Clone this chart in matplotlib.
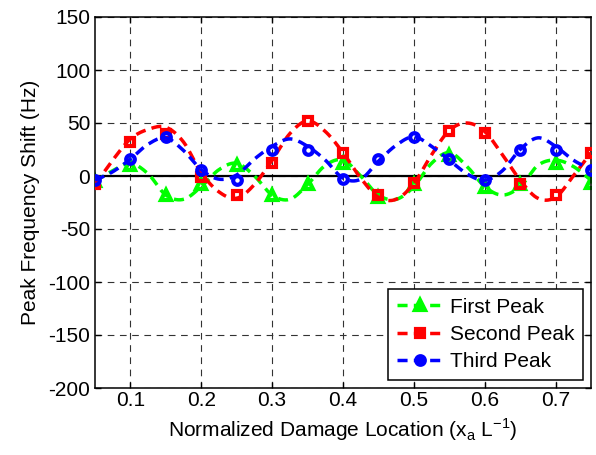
import numpy as np
import matplotlib
matplotlib.use("Agg")
import matplotlib.pyplot as plt
from matplotlib.lines import Line2D

plt.rcParams['font.family'] = ['Liberation Sans', 'DejaVu Sans']
plt.rcParams['mathtext.fontset'] = 'custom'
plt.rcParams['mathtext.rm'] = 'Liberation Sans'
plt.rcParams['axes.unicode_minus'] = False

# Measured peak shifts at each damage location
locations = [0.05, 0.10, 0.15, 0.20, 0.25, 0.30, 0.35, 0.40,
             0.45, 0.50, 0.55, 0.60, 0.65, 0.70, 0.75]
first_peak = [-5, 10, -18, -8, 10, -18, -8, 12, -20, -8, 20, -10, -8, 12, -7]
second_peak = [-8, 32, 40, -1, -18, 12, 52, 22, -18, -7, 42, 41, -8, -18, 22]
third_peak = [-4, 16, 37, 6, -4, 25, 25, -3, 16, 37, 16, -4, 25, 25, 6]

# Fitted trend curves, sampled on a finer grid
fit_locations = [0.050, 0.075, 0.100, 0.125, 0.150, 0.175, 0.200, 0.225,
                 0.250, 0.275, 0.300, 0.325, 0.350, 0.375, 0.400, 0.425,
                 0.450, 0.475, 0.500, 0.525, 0.550, 0.575, 0.600, 0.625,
                 0.650, 0.675, 0.700, 0.725, 0.750]
first_fit = [-5, 5, 12, 2, -18, -22, -10, 6, 12, 0, -18, -22, -8, 10, 15,
             0, -18, -22, -10, 12, 22, 9, -10, -18, -10, 10, 15, 9, -4]
second_fit = [-8, 15, 35, 44, 46, 32, 3, -15, -21, -8, 15, 40, 52, 42, 22,
              -2, -20, -22, -7, 20, 43, 50, 42, 20, -4, -21, -20, 0, 22]
third_fit = [-4, 4, 16, 30, 36, 24, 6, -3, 1, 16, 28, 35, 28, 15, -2,
             -3, 14, 29, 37, 28, 15, 2, -4, 5, 25, 36, 28, 15, 6]

series_names = ['First Peak', 'Second Peak', 'Third Peak']
series_colors = ['#00ff00', '#ff0000', '#0000ff']
series_markers = ['^', 's', 'o']


def catmull_rom(xs, ys, steps=16):
    """Smooth curve through evenly spaced samples for drawing."""
    xs = np.asarray(xs, float)
    ys = np.asarray(ys, float)
    yp = np.concatenate([[2 * ys[0] - ys[1]], ys, [2 * ys[-1] - ys[-2]]])
    out_x, out_y = [], []
    for i in range(len(xs) - 1):
        p0, p1, p2, p3 = yp[i], yp[i + 1], yp[i + 2], yp[i + 3]
        t = np.linspace(0, 1, steps, endpoint=False)
        y = 0.5 * ((2 * p1) + (-p0 + p2) * t
                   + (2 * p0 - 5 * p1 + 4 * p2 - p3) * t ** 2
                   + (-p0 + 3 * p1 - 3 * p2 + p3) * t ** 3)
        out_x.append(xs[i] + (xs[i + 1] - xs[i]) * t)
        out_y.append(y)
    out_x.append([xs[-1]])
    out_y.append([ys[-1]])
    return np.concatenate(out_x), np.concatenate(out_y)


fig = plt.figure(figsize=(5.96, 4.55), dpi=100)
ax = fig.add_axes([95 / 596, 1 - 388 / 455, (591 - 95) / 596, (388 - 17) / 455])

dash = (0, (2.9, 1.8))
line_w = 2.5
marker_sizes = [7.2, 6.0, 6.2]
font_size = 15

ax.axhline(0, color='black', lw=1.6, zorder=1.5)

fits = [first_fit, second_fit, third_fit]
values = [first_peak, second_peak, third_peak]
handles = []
for k in range(3):
    cx, cy = catmull_rom(fit_locations, fits[k])
    ax.plot(cx, cy, color=series_colors[k], lw=line_w, linestyle=dash,
            dash_capstyle='butt', zorder=2 + k)
    ax.plot(locations, values[k], linestyle='none',
            marker=series_markers[k], markersize=marker_sizes[k],
            markeredgewidth=3.0, markerfacecolor='none',
            markeredgecolor=series_colors[k], zorder=2.5 + k)
    handles.append(Line2D([], [], color=series_colors[k], lw=line_w,
                          linestyle=dash, marker=series_markers[k],
                          markersize=marker_sizes[k], markeredgewidth=3.0,
                          markerfacecolor=series_colors[k],
                          markeredgecolor=series_colors[k]))

ax.set_xlim(0.05, 0.75)
ax.set_ylim(-200, 150)
ax.set_xticks([0.1, 0.2, 0.3, 0.4, 0.5, 0.6, 0.7])
ax.set_yticks(np.arange(-200, 151, 50))
ax.tick_params(direction='in', top=True, right=True, length=4, width=1,
               labelsize=font_size)
ax.tick_params(axis='x', pad=2)
ax.tick_params(axis='y', pad=3.5)
ax.grid(True, color='#333333', lw=0.8, linestyle=(0, (6, 5)))
ax.set_axisbelow(True)
for sp in ax.spines.values():
    sp.set_linewidth(1.1)

ax.set_xlabel(r'Normalized Damage Location (x$_\mathregular{a}$ L$^\mathregular{-1}$)',
              fontsize=font_size, labelpad=5)
ax.set_ylabel('Peak Frequency Shift (Hz)', fontsize=font_size, labelpad=6)

leg = ax.legend(handles, series_names, loc='lower right', fontsize=font_size,
                handlelength=2.2, handletextpad=0.35, borderpad=0.4,
                labelspacing=0.4, borderaxespad=0.4, fancybox=False,
                framealpha=1, edgecolor='black')
leg.get_frame().set_linewidth(1.1)

fig.savefig('out.png', dpi=100)
